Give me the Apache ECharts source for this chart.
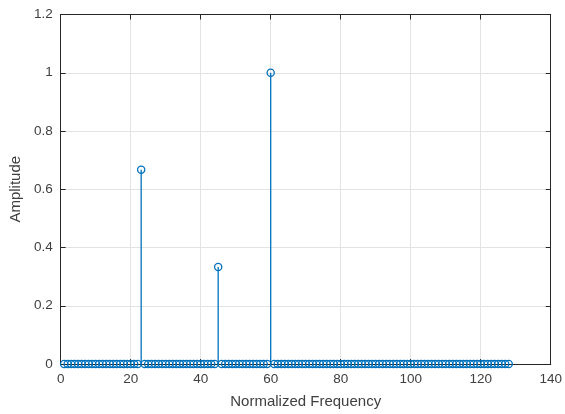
<!DOCTYPE html>
<html>
<head>
    <meta charset="utf-8">
    <title>Stem</title>
    <script src="https://cdn.jsdelivr.net/npm/echarts@6/dist/echarts.min.js"></script>
    <style>
        html, body { margin: 0; padding: 0; background: #fff; }
    </style>
</head>
<body>
    <div id="main" style="width: 565px;height:414px;"></div>
    <script type="text/javascript">
        // frequency bins 1..128, amplitude zero except three peaks
        var binCount = 128;
        var peakBins = [23, 45, 60];
        var peakAmps = [0.667, 0.333, 1.0];
        var xTicks = [0, 20, 40, 60, 80, 100, 120, 140];
        var yTicks = [0, 0.2, 0.4, 0.6, 0.8, 1, 1.2];

        var stems = [];
        for (var i = 1; i <= binCount; i++) {
            var k = peakBins.indexOf(i);
            stems.push([i, k >= 0 ? peakAmps[k] : 0]);
        }

        var blue = '#0072BD';
        var axisCol = '#262626';
        var textCol = '#404040';

        var myChart = echarts.init(document.getElementById('main'));

        function tickStyle() {
            return { inside: true, length: 5, lineStyle: { color: axisCol } };
        }

        option = {
            animation: false,
            backgroundColor: '#fff',
            textStyle: { fontFamily: 'Liberation Sans, Arial, sans-serif' },
            grid: { left: 60.5, right: 12.5, top: 14.5, bottom: 49 },
            xAxis: [{
                type: 'value', min: xTicks[0], max: xTicks[xTicks.length - 1], interval: 20,
                name: 'Normalized Frequency', nameLocation: 'middle', nameGap: 30,
                nameTextStyle: { fontSize: 15, color: textCol },
                axisLine: { onZero: false, lineStyle: { color: axisCol } },
                axisTick: tickStyle(),
                axisLabel: { color: textCol, fontSize: 13.5, margin: 8 },
                splitLine: { show: true, lineStyle: { color: '#e3e3e3' } }
            }, {
                type: 'value', position: 'top', min: xTicks[0], max: xTicks[xTicks.length - 1], interval: 20,
                axisLine: { show: true, onZero: false, lineStyle: { color: axisCol } },
                axisTick: tickStyle(),
                axisLabel: { show: false },
                splitLine: { show: false }
            }],
            yAxis: [{
                type: 'value', min: yTicks[0], max: yTicks[yTicks.length - 1], interval: 0.2,
                name: 'Amplitude', nameLocation: 'middle', nameGap: 36,
                nameTextStyle: { fontSize: 15, color: textCol },
                axisLine: { show: true, onZero: false, lineStyle: { color: axisCol } },
                axisTick: tickStyle(),
                axisLabel: { color: textCol, fontSize: 13.5, margin: 8 },
                splitLine: { show: true, lineStyle: { color: '#e3e3e3' } }
            }, {
                type: 'value', position: 'right', min: yTicks[0], max: yTicks[yTicks.length - 1], interval: 0.2,
                axisLine: { show: true, onZero: false, lineStyle: { color: axisCol } },
                axisTick: tickStyle(),
                axisLabel: { show: false },
                splitLine: { show: false }
            }],
            series: [{
                type: 'custom',
                xAxisIndex: 0, yAxisIndex: 0,
                clip: false,
                data: stems,
                renderItem: function (params, api) {
                    var top = api.coord([api.value(0), api.value(1)]);
                    var base = api.coord([api.value(0), 0]);
                    return {
                        type: 'group',
                        children: [{
                            type: 'line',
                            shape: { x1: base[0], y1: base[1], x2: top[0], y2: top[1] },
                            style: { stroke: blue, lineWidth: 1.3 }
                        }, {
                            type: 'circle',
                            shape: { cx: top[0], cy: top[1], r: 3.6 },
                            style: { fill: 'none', stroke: blue, lineWidth: 1.3 }
                        }]
                    };
                }
            }]
        };

        myChart.setOption(option);
    </script>
</body>
</html>
